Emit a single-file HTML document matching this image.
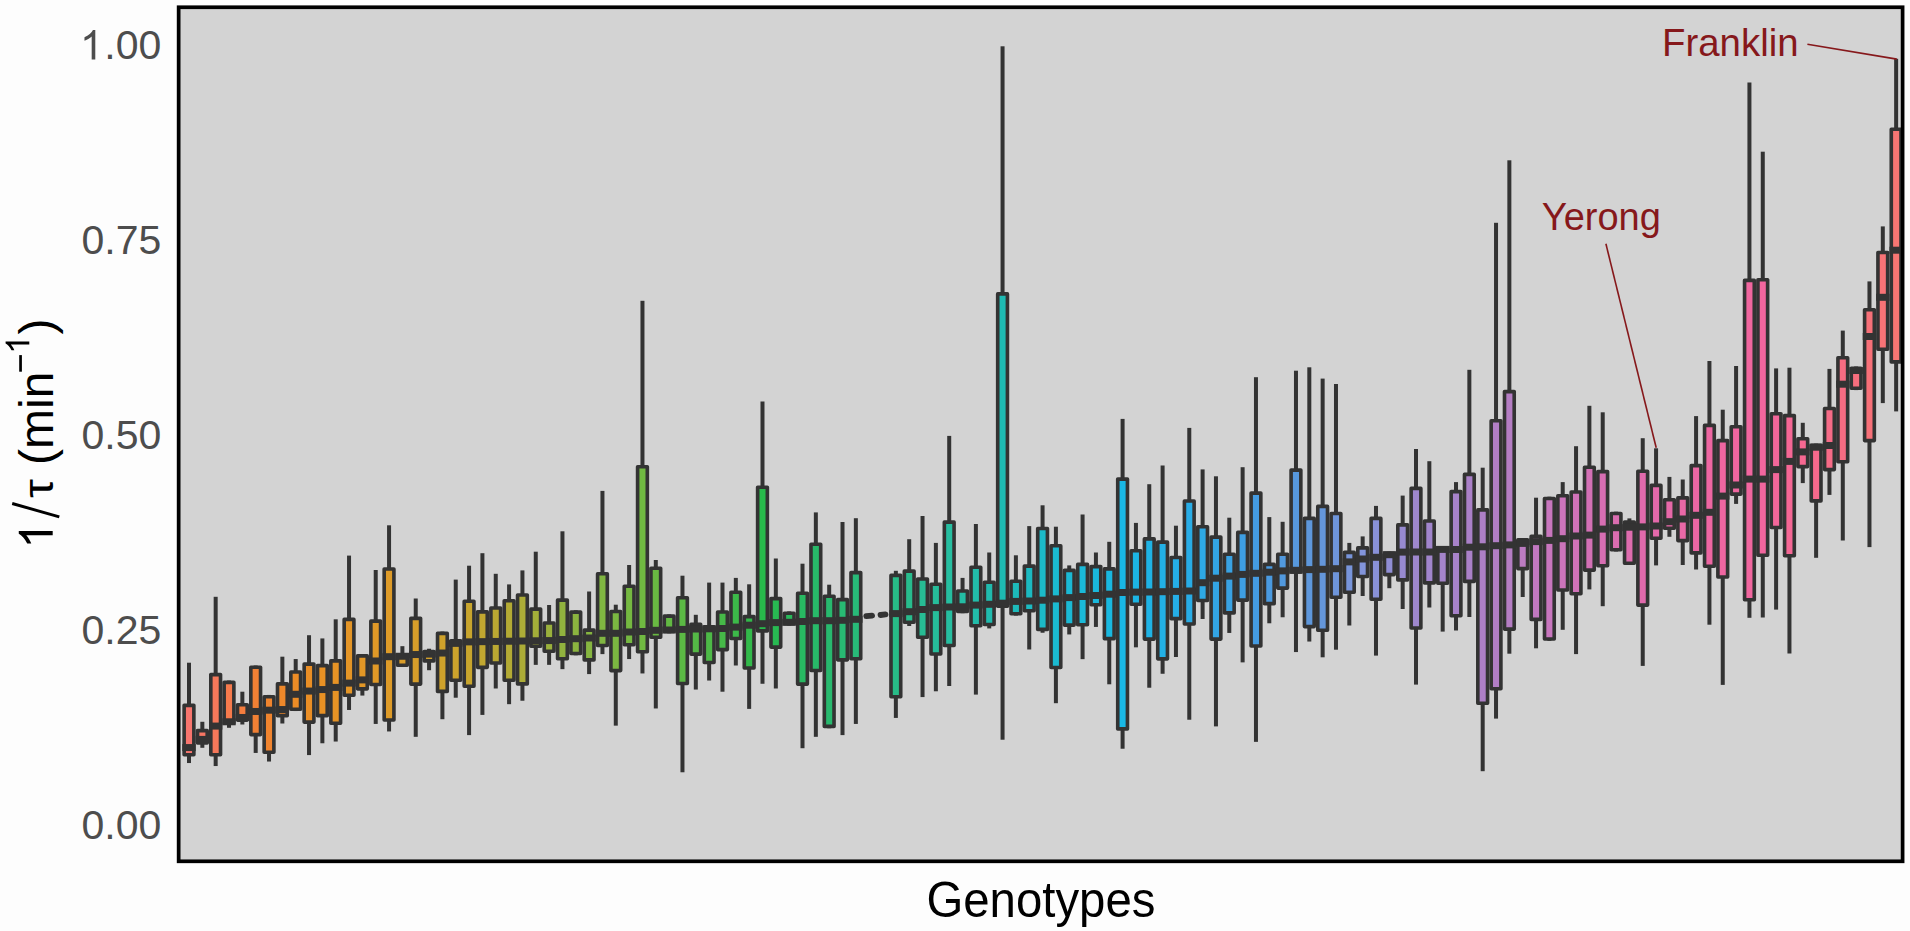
<!DOCTYPE html>
<html><head><meta charset="utf-8"><title>Genotypes</title>
<style>
html,body{margin:0;padding:0;background:#fdfdfd;}
body{width:1910px;height:931px;overflow:hidden;font-family:"Liberation Sans",sans-serif;}
svg{display:block;}
text{font-family:"Liberation Sans",sans-serif;}
</style></head>
<body>
<svg width="1910" height="931" viewBox="0 0 1910 931">
<rect x="0" y="0" width="1910" height="931" fill="#fdfdfd"/>
<rect x="178.65" y="7.25" width="1723.95" height="854.05" fill="#d3d3d3"/>
<g shape-rendering="geometricPrecision">
<rect x="187.00" y="662.71" width="4.0" height="100.32" fill="#333333"/>
<rect x="184.14" y="705.33" width="9.72" height="49.44" fill="#f7756e" stroke="#333333" stroke-width="3.62" stroke-linejoin="round"/>
<rect x="182.33" y="744.06" width="13.34" height="7.0" fill="#333333"/>
<rect x="200.34" y="721.78" width="4.0" height="26.02" fill="#333333"/>
<rect x="197.48" y="730.68" width="9.72" height="12.31" fill="#f67664" stroke="#333333" stroke-width="3.62" stroke-linejoin="round"/>
<rect x="195.67" y="735.90" width="13.34" height="7.0" fill="#333333"/>
<rect x="213.67" y="596.80" width="4.0" height="169.24" fill="#333333"/>
<rect x="210.81" y="674.61" width="9.72" height="80.16" fill="#f6785a" stroke="#333333" stroke-width="3.62" stroke-linejoin="round"/>
<rect x="209.00" y="722.58" width="13.34" height="7.0" fill="#333333"/>
<rect x="227.01" y="680.54" width="4.0" height="47.26" fill="#333333"/>
<rect x="224.15" y="682.35" width="9.72" height="40.85" fill="#f67a4c" stroke="#333333" stroke-width="3.62" stroke-linejoin="round"/>
<rect x="222.34" y="718.28" width="13.34" height="7.0" fill="#333333"/>
<rect x="240.35" y="691.71" width="4.0" height="32.79" fill="#333333"/>
<rect x="237.49" y="704.69" width="9.72" height="15.40" fill="#f47d3e" stroke="#333333" stroke-width="3.62" stroke-linejoin="round"/>
<rect x="235.68" y="713.99" width="13.34" height="7.0" fill="#333333"/>
<rect x="253.69" y="665.50" width="4.0" height="87.43" fill="#333333"/>
<rect x="250.83" y="667.31" width="9.72" height="67.27" fill="#f18034" stroke="#333333" stroke-width="3.62" stroke-linejoin="round"/>
<rect x="249.02" y="707.97" width="13.34" height="7.0" fill="#333333"/>
<rect x="267.02" y="694.93" width="4.0" height="66.60" fill="#333333"/>
<rect x="264.16" y="696.74" width="9.72" height="55.46" fill="#f0842e" stroke="#333333" stroke-width="3.62" stroke-linejoin="round"/>
<rect x="262.35" y="706.68" width="13.34" height="7.0" fill="#333333"/>
<rect x="280.36" y="656.69" width="4.0" height="66.81" fill="#333333"/>
<rect x="277.50" y="683.85" width="9.72" height="31.83" fill="#ee882a" stroke="#333333" stroke-width="3.62" stroke-linejoin="round"/>
<rect x="275.69" y="706.04" width="13.34" height="7.0" fill="#333333"/>
<rect x="293.70" y="659.05" width="4.0" height="51.99" fill="#333333"/>
<rect x="290.84" y="672.04" width="9.72" height="37.20" fill="#ec8c26" stroke="#333333" stroke-width="3.62" stroke-linejoin="round"/>
<rect x="289.03" y="690.79" width="13.34" height="7.0" fill="#333333"/>
<rect x="307.03" y="635.21" width="4.0" height="119.87" fill="#333333"/>
<rect x="304.17" y="664.09" width="9.72" height="58.03" fill="#ea8e25" stroke="#333333" stroke-width="3.62" stroke-linejoin="round"/>
<rect x="302.36" y="687.56" width="13.34" height="7.0" fill="#333333"/>
<rect x="320.37" y="638.43" width="4.0" height="104.83" fill="#333333"/>
<rect x="317.51" y="665.59" width="9.72" height="50.09" fill="#e89124" stroke="#333333" stroke-width="3.62" stroke-linejoin="round"/>
<rect x="315.70" y="686.06" width="13.34" height="7.0" fill="#333333"/>
<rect x="333.71" y="619.31" width="4.0" height="122.23" fill="#333333"/>
<rect x="330.85" y="660.86" width="9.72" height="62.33" fill="#e69325" stroke="#333333" stroke-width="3.62" stroke-linejoin="round"/>
<rect x="329.04" y="683.91" width="13.34" height="7.0" fill="#333333"/>
<rect x="347.04" y="555.60" width="4.0" height="154.37" fill="#333333"/>
<rect x="344.18" y="619.40" width="9.72" height="75.86" fill="#e49526" stroke="#333333" stroke-width="3.62" stroke-linejoin="round"/>
<rect x="342.37" y="679.61" width="13.34" height="7.0" fill="#333333"/>
<rect x="360.38" y="654.11" width="4.0" height="41.46" fill="#333333"/>
<rect x="357.52" y="655.92" width="9.72" height="32.90" fill="#e29726" stroke="#333333" stroke-width="3.62" stroke-linejoin="round"/>
<rect x="355.71" y="676.39" width="13.34" height="7.0" fill="#333333"/>
<rect x="373.72" y="570.00" width="4.0" height="153.93" fill="#333333"/>
<rect x="370.86" y="621.12" width="9.72" height="63.40" fill="#e09927" stroke="#333333" stroke-width="3.62" stroke-linejoin="round"/>
<rect x="369.05" y="657.49" width="13.34" height="7.0" fill="#333333"/>
<rect x="387.06" y="525.30" width="4.0" height="206.15" fill="#333333"/>
<rect x="384.19" y="569.01" width="9.72" height="150.96" fill="#de9b28" stroke="#333333" stroke-width="3.62" stroke-linejoin="round"/>
<rect x="382.38" y="653.19" width="13.34" height="7.0" fill="#333333"/>
<rect x="400.39" y="646.17" width="4.0" height="20.84" fill="#333333"/>
<rect x="397.53" y="654.85" width="9.72" height="10.34" fill="#da9d29" stroke="#333333" stroke-width="3.62" stroke-linejoin="round"/>
<rect x="395.72" y="652.76" width="13.34" height="7.0" fill="#333333"/>
<rect x="413.73" y="598.50" width="4.0" height="138.32" fill="#333333"/>
<rect x="410.87" y="618.33" width="9.72" height="65.77" fill="#d79e2a" stroke="#333333" stroke-width="3.62" stroke-linejoin="round"/>
<rect x="409.06" y="651.04" width="13.34" height="7.0" fill="#333333"/>
<rect x="427.07" y="648.74" width="4.0" height="21.48" fill="#333333"/>
<rect x="424.21" y="651.63" width="9.72" height="9.27" fill="#d3a02a" stroke="#333333" stroke-width="3.62" stroke-linejoin="round"/>
<rect x="422.40" y="650.61" width="13.34" height="7.0" fill="#333333"/>
<rect x="440.40" y="631.56" width="4.0" height="87.65" fill="#333333"/>
<rect x="437.54" y="633.37" width="9.72" height="58.03" fill="#cfa22b" stroke="#333333" stroke-width="3.62" stroke-linejoin="round"/>
<rect x="435.73" y="649.54" width="13.34" height="7.0" fill="#333333"/>
<rect x="453.74" y="579.60" width="4.0" height="118.12" fill="#333333"/>
<rect x="450.88" y="640.89" width="9.72" height="39.34" fill="#cca32c" stroke="#333333" stroke-width="3.62" stroke-linejoin="round"/>
<rect x="449.07" y="639.87" width="13.34" height="7.0" fill="#333333"/>
<rect x="467.08" y="565.70" width="4.0" height="169.40" fill="#333333"/>
<rect x="464.22" y="601.21" width="9.72" height="85.04" fill="#c8a52d" stroke="#333333" stroke-width="3.62" stroke-linejoin="round"/>
<rect x="462.41" y="638.37" width="13.34" height="7.0" fill="#333333"/>
<rect x="480.41" y="553.20" width="4.0" height="161.71" fill="#333333"/>
<rect x="477.55" y="611.89" width="9.72" height="55.46" fill="#c1a730" stroke="#333333" stroke-width="3.62" stroke-linejoin="round"/>
<rect x="475.74" y="638.15" width="13.34" height="7.0" fill="#333333"/>
<rect x="493.75" y="573.80" width="4.0" height="114.69" fill="#333333"/>
<rect x="490.89" y="608.02" width="9.72" height="55.03" fill="#baa832" stroke="#333333" stroke-width="3.62" stroke-linejoin="round"/>
<rect x="489.08" y="637.94" width="13.34" height="7.0" fill="#333333"/>
<rect x="507.09" y="584.40" width="4.0" height="119.77" fill="#333333"/>
<rect x="504.23" y="600.71" width="9.72" height="79.52" fill="#b3aa34" stroke="#333333" stroke-width="3.62" stroke-linejoin="round"/>
<rect x="502.42" y="637.72" width="13.34" height="7.0" fill="#333333"/>
<rect x="520.42" y="570.40" width="4.0" height="130.33" fill="#333333"/>
<rect x="517.56" y="595.01" width="9.72" height="88.87" fill="#acac37" stroke="#333333" stroke-width="3.62" stroke-linejoin="round"/>
<rect x="515.75" y="637.51" width="13.34" height="7.0" fill="#333333"/>
<rect x="533.76" y="551.70" width="4.0" height="113.15" fill="#333333"/>
<rect x="530.90" y="609.09" width="9.72" height="37.10" fill="#a3ae39" stroke="#333333" stroke-width="3.62" stroke-linejoin="round"/>
<rect x="529.09" y="637.29" width="13.34" height="7.0" fill="#333333"/>
<rect x="547.10" y="605.00" width="4.0" height="59.85" fill="#333333"/>
<rect x="544.24" y="623.06" width="9.72" height="28.17" fill="#9ab03c" stroke="#333333" stroke-width="3.62" stroke-linejoin="round"/>
<rect x="542.43" y="637.08" width="13.34" height="7.0" fill="#333333"/>
<rect x="560.44" y="531.30" width="4.0" height="137.85" fill="#333333"/>
<rect x="557.58" y="600.11" width="9.72" height="58.64" fill="#91b23e" stroke="#333333" stroke-width="3.62" stroke-linejoin="round"/>
<rect x="555.77" y="636.00" width="13.34" height="7.0" fill="#333333"/>
<rect x="573.77" y="610.30" width="4.0" height="45.00" fill="#333333"/>
<rect x="570.91" y="612.11" width="9.72" height="41.38" fill="#8bb33f" stroke="#333333" stroke-width="3.62" stroke-linejoin="round"/>
<rect x="569.10" y="635.20" width="13.34" height="7.0" fill="#333333"/>
<rect x="587.11" y="591.50" width="4.0" height="82.59" fill="#333333"/>
<rect x="584.25" y="630.15" width="9.72" height="29.74" fill="#86b540" stroke="#333333" stroke-width="3.62" stroke-linejoin="round"/>
<rect x="582.44" y="634.50" width="13.34" height="7.0" fill="#333333"/>
<rect x="600.45" y="490.90" width="4.0" height="163.21" fill="#333333"/>
<rect x="597.59" y="573.71" width="9.72" height="71.78" fill="#80b641" stroke="#333333" stroke-width="3.62" stroke-linejoin="round"/>
<rect x="595.78" y="629.80" width="13.34" height="7.0" fill="#333333"/>
<rect x="613.78" y="604.70" width="4.0" height="120.95" fill="#333333"/>
<rect x="610.92" y="611.46" width="9.72" height="59.11" fill="#7bb741" stroke="#333333" stroke-width="3.62" stroke-linejoin="round"/>
<rect x="609.11" y="629.80" width="13.34" height="7.0" fill="#333333"/>
<rect x="627.12" y="565.00" width="4.0" height="94.05" fill="#333333"/>
<rect x="624.26" y="586.31" width="9.72" height="58.38" fill="#75b841" stroke="#333333" stroke-width="3.62" stroke-linejoin="round"/>
<rect x="622.45" y="628.50" width="13.34" height="7.0" fill="#333333"/>
<rect x="640.46" y="300.80" width="4.0" height="372.65" fill="#333333"/>
<rect x="637.60" y="466.81" width="9.72" height="184.98" fill="#70b941" stroke="#333333" stroke-width="3.62" stroke-linejoin="round"/>
<rect x="635.79" y="628.00" width="13.34" height="7.0" fill="#333333"/>
<rect x="653.80" y="560.00" width="4.0" height="148.46" fill="#333333"/>
<rect x="650.94" y="568.31" width="9.72" height="68.88" fill="#69b942" stroke="#333333" stroke-width="3.62" stroke-linejoin="round"/>
<rect x="649.13" y="626.80" width="13.34" height="7.0" fill="#333333"/>
<rect x="667.13" y="614.37" width="4.0" height="18.93" fill="#333333"/>
<rect x="664.27" y="616.18" width="9.72" height="15.31" fill="#62b943" stroke="#333333" stroke-width="3.62" stroke-linejoin="round"/>
<rect x="662.46" y="626.50" width="13.34" height="7.0" fill="#333333"/>
<rect x="680.47" y="575.70" width="4.0" height="196.57" fill="#333333"/>
<rect x="677.61" y="597.81" width="9.72" height="85.64" fill="#5bb944" stroke="#333333" stroke-width="3.62" stroke-linejoin="round"/>
<rect x="675.80" y="625.90" width="13.34" height="7.0" fill="#333333"/>
<rect x="693.81" y="614.80" width="4.0" height="74.76" fill="#333333"/>
<rect x="690.95" y="624.41" width="9.72" height="29.68" fill="#54b946" stroke="#333333" stroke-width="3.62" stroke-linejoin="round"/>
<rect x="689.14" y="625.50" width="13.34" height="7.0" fill="#333333"/>
<rect x="707.14" y="582.60" width="4.0" height="97.94" fill="#333333"/>
<rect x="704.28" y="626.91" width="9.72" height="35.58" fill="#4db947" stroke="#333333" stroke-width="3.62" stroke-linejoin="round"/>
<rect x="702.47" y="625.30" width="13.34" height="7.0" fill="#333333"/>
<rect x="720.48" y="582.60" width="4.0" height="109.11" fill="#333333"/>
<rect x="717.62" y="612.01" width="9.72" height="37.58" fill="#46b948" stroke="#333333" stroke-width="3.62" stroke-linejoin="round"/>
<rect x="715.81" y="625.00" width="13.34" height="7.0" fill="#333333"/>
<rect x="733.82" y="577.90" width="4.0" height="87.60" fill="#333333"/>
<rect x="730.96" y="592.21" width="9.72" height="46.28" fill="#3cb949" stroke="#333333" stroke-width="3.62" stroke-linejoin="round"/>
<rect x="729.15" y="623.60" width="13.34" height="7.0" fill="#333333"/>
<rect x="747.15" y="584.30" width="4.0" height="124.59" fill="#333333"/>
<rect x="744.29" y="616.61" width="9.72" height="51.38" fill="#32b94a" stroke="#333333" stroke-width="3.62" stroke-linejoin="round"/>
<rect x="742.48" y="621.70" width="13.34" height="7.0" fill="#333333"/>
<rect x="760.49" y="401.50" width="4.0" height="282.26" fill="#333333"/>
<rect x="757.63" y="487.31" width="9.72" height="143.58" fill="#28b94b" stroke="#333333" stroke-width="3.62" stroke-linejoin="round"/>
<rect x="755.82" y="620.20" width="13.34" height="7.0" fill="#333333"/>
<rect x="773.83" y="558.50" width="4.0" height="129.99" fill="#333333"/>
<rect x="770.97" y="598.61" width="9.72" height="48.48" fill="#28b952" stroke="#333333" stroke-width="3.62" stroke-linejoin="round"/>
<rect x="769.16" y="619.10" width="13.34" height="7.0" fill="#333333"/>
<rect x="787.16" y="611.40" width="4.0" height="14.20" fill="#333333"/>
<rect x="784.30" y="613.21" width="9.72" height="10.58" fill="#28b95a" stroke="#333333" stroke-width="3.62" stroke-linejoin="round"/>
<rect x="782.50" y="618.80" width="13.34" height="7.0" fill="#333333"/>
<rect x="800.50" y="563.70" width="4.0" height="184.51" fill="#333333"/>
<rect x="797.64" y="593.31" width="9.72" height="90.79" fill="#28b962" stroke="#333333" stroke-width="3.62" stroke-linejoin="round"/>
<rect x="795.83" y="618.00" width="13.34" height="7.0" fill="#333333"/>
<rect x="813.84" y="512.40" width="4.0" height="224.42" fill="#333333"/>
<rect x="810.98" y="544.21" width="9.72" height="126.35" fill="#28b969" stroke="#333333" stroke-width="3.62" stroke-linejoin="round"/>
<rect x="809.17" y="617.20" width="13.34" height="7.0" fill="#333333"/>
<rect x="827.18" y="584.70" width="4.0" height="143.53" fill="#333333"/>
<rect x="824.32" y="596.31" width="9.72" height="130.11" fill="#28b96e" stroke="#333333" stroke-width="3.62" stroke-linejoin="round"/>
<rect x="822.51" y="617.20" width="13.34" height="7.0" fill="#333333"/>
<rect x="840.51" y="522.00" width="4.0" height="213.10" fill="#333333"/>
<rect x="837.65" y="599.61" width="9.72" height="60.21" fill="#28ba73" stroke="#333333" stroke-width="3.62" stroke-linejoin="round"/>
<rect x="835.84" y="616.80" width="13.34" height="7.0" fill="#333333"/>
<rect x="853.85" y="518.20" width="4.0" height="205.73" fill="#333333"/>
<rect x="850.99" y="572.61" width="9.72" height="86.14" fill="#28ba78" stroke="#333333" stroke-width="3.62" stroke-linejoin="round"/>
<rect x="849.18" y="615.80" width="13.34" height="7.0" fill="#333333"/>
<line x1="866.29" y1="616.20" x2="872.09" y2="615.60" stroke="#333333" stroke-width="5.8" stroke-linecap="round"/>
<line x1="880.52" y1="615.00" x2="885.52" y2="614.40" stroke="#333333" stroke-width="5.8" stroke-linecap="round"/>
<rect x="893.86" y="570.80" width="4.0" height="147.12" fill="#333333"/>
<rect x="891.00" y="575.41" width="9.72" height="121.36" fill="#28bb87" stroke="#333333" stroke-width="3.62" stroke-linejoin="round"/>
<rect x="889.19" y="610.10" width="13.34" height="7.0" fill="#333333"/>
<rect x="907.20" y="539.20" width="4.0" height="86.80" fill="#333333"/>
<rect x="904.34" y="571.11" width="9.72" height="51.18" fill="#28bc8d" stroke="#333333" stroke-width="3.62" stroke-linejoin="round"/>
<rect x="902.53" y="608.20" width="13.34" height="7.0" fill="#333333"/>
<rect x="920.53" y="516.00" width="4.0" height="181.08" fill="#333333"/>
<rect x="917.67" y="579.01" width="9.72" height="58.26" fill="#27bc94" stroke="#333333" stroke-width="3.62" stroke-linejoin="round"/>
<rect x="915.87" y="606.00" width="13.34" height="7.0" fill="#333333"/>
<rect x="933.87" y="542.90" width="4.0" height="148.38" fill="#333333"/>
<rect x="931.01" y="584.31" width="9.72" height="69.71" fill="#26bd9a" stroke="#333333" stroke-width="3.62" stroke-linejoin="round"/>
<rect x="929.20" y="604.10" width="13.34" height="7.0" fill="#333333"/>
<rect x="947.21" y="435.90" width="4.0" height="250.10" fill="#333333"/>
<rect x="944.35" y="522.11" width="9.72" height="123.42" fill="#26bea0" stroke="#333333" stroke-width="3.62" stroke-linejoin="round"/>
<rect x="942.54" y="603.50" width="13.34" height="7.0" fill="#333333"/>
<rect x="960.55" y="577.90" width="4.0" height="35.30" fill="#333333"/>
<rect x="957.69" y="591.01" width="9.72" height="20.38" fill="#24bda4" stroke="#333333" stroke-width="3.62" stroke-linejoin="round"/>
<rect x="955.88" y="603.30" width="13.34" height="7.0" fill="#333333"/>
<rect x="973.88" y="524.00" width="4.0" height="170.60" fill="#333333"/>
<rect x="971.02" y="567.21" width="9.72" height="58.55" fill="#22bca9" stroke="#333333" stroke-width="3.62" stroke-linejoin="round"/>
<rect x="969.21" y="601.60" width="13.34" height="7.0" fill="#333333"/>
<rect x="987.22" y="552.50" width="4.0" height="75.93" fill="#333333"/>
<rect x="984.36" y="582.31" width="9.72" height="42.16" fill="#20bbae" stroke="#333333" stroke-width="3.62" stroke-linejoin="round"/>
<rect x="982.55" y="600.80" width="13.34" height="7.0" fill="#333333"/>
<rect x="1000.56" y="46.30" width="4.0" height="693.41" fill="#333333"/>
<rect x="997.70" y="293.91" width="9.72" height="312.28" fill="#1ebab2" stroke="#333333" stroke-width="3.62" stroke-linejoin="round"/>
<rect x="995.89" y="599.70" width="13.34" height="7.0" fill="#333333"/>
<rect x="1013.89" y="555.30" width="4.0" height="60.30" fill="#333333"/>
<rect x="1011.03" y="581.21" width="9.72" height="32.58" fill="#1dbaba" stroke="#333333" stroke-width="3.62" stroke-linejoin="round"/>
<rect x="1009.22" y="597.90" width="13.34" height="7.0" fill="#333333"/>
<rect x="1027.23" y="526.10" width="4.0" height="123.38" fill="#333333"/>
<rect x="1024.37" y="566.11" width="9.72" height="44.68" fill="#1cbac1" stroke="#333333" stroke-width="3.62" stroke-linejoin="round"/>
<rect x="1022.56" y="597.50" width="13.34" height="7.0" fill="#333333"/>
<rect x="1040.57" y="505.30" width="4.0" height="127.43" fill="#333333"/>
<rect x="1037.71" y="528.51" width="9.72" height="100.90" fill="#1cbac8" stroke="#333333" stroke-width="3.62" stroke-linejoin="round"/>
<rect x="1035.90" y="596.70" width="13.34" height="7.0" fill="#333333"/>
<rect x="1053.90" y="526.70" width="4.0" height="176.49" fill="#333333"/>
<rect x="1051.04" y="545.71" width="9.72" height="121.73" fill="#1bbad0" stroke="#333333" stroke-width="3.62" stroke-linejoin="round"/>
<rect x="1049.23" y="595.40" width="13.34" height="7.0" fill="#333333"/>
<rect x="1067.24" y="565.40" width="4.0" height="69.05" fill="#333333"/>
<rect x="1064.38" y="570.41" width="9.72" height="54.71" fill="#1bb9d4" stroke="#333333" stroke-width="3.62" stroke-linejoin="round"/>
<rect x="1062.57" y="594.10" width="13.34" height="7.0" fill="#333333"/>
<rect x="1080.58" y="514.50" width="4.0" height="144.65" fill="#333333"/>
<rect x="1077.72" y="564.41" width="9.72" height="60.28" fill="#1ab9d8" stroke="#333333" stroke-width="3.62" stroke-linejoin="round"/>
<rect x="1075.91" y="593.00" width="13.34" height="7.0" fill="#333333"/>
<rect x="1093.92" y="552.50" width="4.0" height="74.43" fill="#333333"/>
<rect x="1091.06" y="566.61" width="9.72" height="38.10" fill="#1ab8dc" stroke="#333333" stroke-width="3.62" stroke-linejoin="round"/>
<rect x="1089.25" y="592.00" width="13.34" height="7.0" fill="#333333"/>
<rect x="1107.25" y="541.80" width="4.0" height="142.49" fill="#333333"/>
<rect x="1104.39" y="568.91" width="9.72" height="69.74" fill="#19b8e0" stroke="#333333" stroke-width="3.62" stroke-linejoin="round"/>
<rect x="1102.58" y="590.70" width="13.34" height="7.0" fill="#333333"/>
<rect x="1120.59" y="418.90" width="4.0" height="329.83" fill="#333333"/>
<rect x="1117.73" y="479.11" width="9.72" height="249.77" fill="#19b7e4" stroke="#333333" stroke-width="3.62" stroke-linejoin="round"/>
<rect x="1115.92" y="589.00" width="13.34" height="7.0" fill="#333333"/>
<rect x="1133.93" y="522.90" width="4.0" height="124.44" fill="#333333"/>
<rect x="1131.07" y="550.71" width="9.72" height="53.48" fill="#1cb5e4" stroke="#333333" stroke-width="3.62" stroke-linejoin="round"/>
<rect x="1129.26" y="588.60" width="13.34" height="7.0" fill="#333333"/>
<rect x="1147.26" y="484.20" width="4.0" height="203.52" fill="#333333"/>
<rect x="1144.40" y="538.91" width="9.72" height="100.17" fill="#1fb3e5" stroke="#333333" stroke-width="3.62" stroke-linejoin="round"/>
<rect x="1142.59" y="588.50" width="13.34" height="7.0" fill="#333333"/>
<rect x="1160.60" y="465.50" width="4.0" height="208.26" fill="#333333"/>
<rect x="1157.74" y="542.11" width="9.72" height="116.74" fill="#22b0e5" stroke="#333333" stroke-width="3.62" stroke-linejoin="round"/>
<rect x="1155.93" y="588.20" width="13.34" height="7.0" fill="#333333"/>
<rect x="1173.94" y="525.70" width="4.0" height="131.30" fill="#333333"/>
<rect x="1171.08" y="557.51" width="9.72" height="61.16" fill="#25aee6" stroke="#333333" stroke-width="3.62" stroke-linejoin="round"/>
<rect x="1169.27" y="587.90" width="13.34" height="7.0" fill="#333333"/>
<rect x="1187.28" y="427.90" width="4.0" height="291.83" fill="#333333"/>
<rect x="1184.41" y="501.01" width="9.72" height="123.03" fill="#28ace6" stroke="#333333" stroke-width="3.62" stroke-linejoin="round"/>
<rect x="1182.61" y="587.50" width="13.34" height="7.0" fill="#333333"/>
<rect x="1200.61" y="469.40" width="4.0" height="149.58" fill="#333333"/>
<rect x="1197.75" y="526.81" width="9.72" height="73.68" fill="#2ea9e5" stroke="#333333" stroke-width="3.62" stroke-linejoin="round"/>
<rect x="1195.94" y="579.20" width="13.34" height="7.0" fill="#333333"/>
<rect x="1213.95" y="476.30" width="4.0" height="250.09" fill="#333333"/>
<rect x="1211.09" y="537.11" width="9.72" height="101.97" fill="#33a5e4" stroke="#333333" stroke-width="3.62" stroke-linejoin="round"/>
<rect x="1209.28" y="574.70" width="13.34" height="7.0" fill="#333333"/>
<rect x="1227.29" y="517.70" width="4.0" height="115.24" fill="#333333"/>
<rect x="1224.43" y="554.31" width="9.72" height="58.58" fill="#39a2e3" stroke="#333333" stroke-width="3.62" stroke-linejoin="round"/>
<rect x="1222.62" y="572.60" width="13.34" height="7.0" fill="#333333"/>
<rect x="1240.62" y="467.20" width="4.0" height="195.17" fill="#333333"/>
<rect x="1237.76" y="532.41" width="9.72" height="67.68" fill="#3e9ee2" stroke="#333333" stroke-width="3.62" stroke-linejoin="round"/>
<rect x="1235.95" y="570.90" width="13.34" height="7.0" fill="#333333"/>
<rect x="1253.96" y="377.20" width="4.0" height="364.66" fill="#333333"/>
<rect x="1251.10" y="493.11" width="9.72" height="152.85" fill="#449be1" stroke="#333333" stroke-width="3.62" stroke-linejoin="round"/>
<rect x="1249.29" y="569.80" width="13.34" height="7.0" fill="#333333"/>
<rect x="1267.30" y="517.10" width="4.0" height="106.18" fill="#333333"/>
<rect x="1264.44" y="564.41" width="9.72" height="39.23" fill="#4a9ae0" stroke="#333333" stroke-width="3.62" stroke-linejoin="round"/>
<rect x="1262.63" y="568.70" width="13.34" height="7.0" fill="#333333"/>
<rect x="1280.63" y="521.80" width="4.0" height="95.46" fill="#333333"/>
<rect x="1277.77" y="554.31" width="9.72" height="33.78" fill="#5199de" stroke="#333333" stroke-width="3.62" stroke-linejoin="round"/>
<rect x="1275.96" y="567.40" width="13.34" height="7.0" fill="#333333"/>
<rect x="1293.97" y="370.70" width="4.0" height="281.36" fill="#333333"/>
<rect x="1291.11" y="470.11" width="9.72" height="101.88" fill="#5798dd" stroke="#333333" stroke-width="3.62" stroke-linejoin="round"/>
<rect x="1289.30" y="566.80" width="13.34" height="7.0" fill="#333333"/>
<rect x="1307.31" y="367.30" width="4.0" height="274.24" fill="#333333"/>
<rect x="1304.45" y="518.41" width="9.72" height="108.21" fill="#5e97db" stroke="#333333" stroke-width="3.62" stroke-linejoin="round"/>
<rect x="1302.64" y="566.10" width="13.34" height="7.0" fill="#333333"/>
<rect x="1320.64" y="378.60" width="4.0" height="278.70" fill="#333333"/>
<rect x="1317.78" y="506.41" width="9.72" height="123.78" fill="#6496da" stroke="#333333" stroke-width="3.62" stroke-linejoin="round"/>
<rect x="1315.97" y="565.80" width="13.34" height="7.0" fill="#333333"/>
<rect x="1333.98" y="384.00" width="4.0" height="265.70" fill="#333333"/>
<rect x="1331.12" y="513.51" width="9.72" height="83.68" fill="#6e95da" stroke="#333333" stroke-width="3.62" stroke-linejoin="round"/>
<rect x="1329.31" y="565.20" width="13.34" height="7.0" fill="#333333"/>
<rect x="1347.32" y="542.90" width="4.0" height="82.60" fill="#333333"/>
<rect x="1344.46" y="552.41" width="9.72" height="39.88" fill="#7895da" stroke="#333333" stroke-width="3.62" stroke-linejoin="round"/>
<rect x="1342.65" y="558.40" width="13.34" height="7.0" fill="#333333"/>
<rect x="1360.66" y="536.40" width="4.0" height="59.60" fill="#333333"/>
<rect x="1357.80" y="547.91" width="9.72" height="28.58" fill="#8294da" stroke="#333333" stroke-width="3.62" stroke-linejoin="round"/>
<rect x="1355.99" y="555.50" width="13.34" height="7.0" fill="#333333"/>
<rect x="1373.99" y="505.90" width="4.0" height="149.70" fill="#333333"/>
<rect x="1371.13" y="518.41" width="9.72" height="80.78" fill="#8991d7" stroke="#333333" stroke-width="3.62" stroke-linejoin="round"/>
<rect x="1369.32" y="553.80" width="13.34" height="7.0" fill="#333333"/>
<rect x="1387.33" y="551.60" width="4.0" height="36.60" fill="#333333"/>
<rect x="1384.47" y="553.41" width="9.72" height="21.18" fill="#908ed4" stroke="#333333" stroke-width="3.62" stroke-linejoin="round"/>
<rect x="1382.66" y="551.20" width="13.34" height="7.0" fill="#333333"/>
<rect x="1400.67" y="495.60" width="4.0" height="113.40" fill="#333333"/>
<rect x="1397.81" y="524.91" width="9.72" height="54.98" fill="#978ad0" stroke="#333333" stroke-width="3.62" stroke-linejoin="round"/>
<rect x="1396.00" y="548.60" width="13.34" height="7.0" fill="#333333"/>
<rect x="1414.00" y="449.00" width="4.0" height="235.60" fill="#333333"/>
<rect x="1411.14" y="488.41" width="9.72" height="139.58" fill="#9e87cd" stroke="#333333" stroke-width="3.62" stroke-linejoin="round"/>
<rect x="1409.33" y="548.50" width="13.34" height="7.0" fill="#333333"/>
<rect x="1427.34" y="461.20" width="4.0" height="146.30" fill="#333333"/>
<rect x="1424.48" y="521.01" width="9.72" height="61.88" fill="#a185cc" stroke="#333333" stroke-width="3.62" stroke-linejoin="round"/>
<rect x="1422.67" y="548.50" width="13.34" height="7.0" fill="#333333"/>
<rect x="1440.68" y="546.40" width="4.0" height="85.20" fill="#333333"/>
<rect x="1437.82" y="548.21" width="9.72" height="34.98" fill="#a484ca" stroke="#333333" stroke-width="3.62" stroke-linejoin="round"/>
<rect x="1436.01" y="545.90" width="13.34" height="7.0" fill="#333333"/>
<rect x="1454.01" y="482.10" width="4.0" height="148.40" fill="#333333"/>
<rect x="1451.15" y="491.61" width="9.72" height="124.18" fill="#a782c9" stroke="#333333" stroke-width="3.62" stroke-linejoin="round"/>
<rect x="1449.34" y="546.00" width="13.34" height="7.0" fill="#333333"/>
<rect x="1467.35" y="369.80" width="4.0" height="247.20" fill="#333333"/>
<rect x="1464.49" y="474.41" width="9.72" height="106.98" fill="#aa80c8" stroke="#333333" stroke-width="3.62" stroke-linejoin="round"/>
<rect x="1462.68" y="543.70" width="13.34" height="7.0" fill="#333333"/>
<rect x="1480.69" y="467.70" width="4.0" height="303.50" fill="#333333"/>
<rect x="1477.83" y="509.91" width="9.72" height="193.28" fill="#ad7fc6" stroke="#333333" stroke-width="3.62" stroke-linejoin="round"/>
<rect x="1476.02" y="543.30" width="13.34" height="7.0" fill="#333333"/>
<rect x="1494.03" y="222.80" width="4.0" height="495.80" fill="#333333"/>
<rect x="1491.17" y="420.71" width="9.72" height="268.08" fill="#b17ec5" stroke="#333333" stroke-width="3.62" stroke-linejoin="round"/>
<rect x="1489.36" y="542.20" width="13.34" height="7.0" fill="#333333"/>
<rect x="1507.36" y="160.30" width="4.0" height="493.40" fill="#333333"/>
<rect x="1504.50" y="391.61" width="9.72" height="237.48" fill="#b47dc3" stroke="#333333" stroke-width="3.62" stroke-linejoin="round"/>
<rect x="1502.69" y="541.40" width="13.34" height="7.0" fill="#333333"/>
<rect x="1520.70" y="538.00" width="4.0" height="59.00" fill="#333333"/>
<rect x="1517.84" y="539.81" width="9.72" height="28.78" fill="#bb7bc1" stroke="#333333" stroke-width="3.62" stroke-linejoin="round"/>
<rect x="1516.03" y="539.90" width="13.34" height="7.0" fill="#333333"/>
<rect x="1534.04" y="497.70" width="4.0" height="150.60" fill="#333333"/>
<rect x="1531.18" y="536.31" width="9.72" height="83.08" fill="#c178c0" stroke="#333333" stroke-width="3.62" stroke-linejoin="round"/>
<rect x="1529.37" y="538.10" width="13.34" height="7.0" fill="#333333"/>
<rect x="1547.37" y="496.70" width="4.0" height="144.10" fill="#333333"/>
<rect x="1544.51" y="498.51" width="9.72" height="140.48" fill="#c876be" stroke="#333333" stroke-width="3.62" stroke-linejoin="round"/>
<rect x="1542.70" y="536.90" width="13.34" height="7.0" fill="#333333"/>
<rect x="1560.71" y="482.10" width="4.0" height="147.70" fill="#333333"/>
<rect x="1557.85" y="495.71" width="9.72" height="94.28" fill="#cc74bb" stroke="#333333" stroke-width="3.62" stroke-linejoin="round"/>
<rect x="1556.04" y="535.20" width="13.34" height="7.0" fill="#333333"/>
<rect x="1574.05" y="446.20" width="4.0" height="207.90" fill="#333333"/>
<rect x="1571.19" y="492.01" width="9.72" height="101.68" fill="#d072b8" stroke="#333333" stroke-width="3.62" stroke-linejoin="round"/>
<rect x="1569.38" y="532.50" width="13.34" height="7.0" fill="#333333"/>
<rect x="1587.38" y="405.80" width="4.0" height="183.60" fill="#333333"/>
<rect x="1584.52" y="467.31" width="9.72" height="102.78" fill="#d370b5" stroke="#333333" stroke-width="3.62" stroke-linejoin="round"/>
<rect x="1582.71" y="531.60" width="13.34" height="7.0" fill="#333333"/>
<rect x="1600.72" y="412.30" width="4.0" height="193.90" fill="#333333"/>
<rect x="1597.86" y="471.61" width="9.72" height="94.18" fill="#d76eb2" stroke="#333333" stroke-width="3.62" stroke-linejoin="round"/>
<rect x="1596.05" y="525.60" width="13.34" height="7.0" fill="#333333"/>
<rect x="1614.06" y="511.70" width="4.0" height="39.80" fill="#333333"/>
<rect x="1611.20" y="513.51" width="9.72" height="36.18" fill="#da6db0" stroke="#333333" stroke-width="3.62" stroke-linejoin="round"/>
<rect x="1609.39" y="524.20" width="13.34" height="7.0" fill="#333333"/>
<rect x="1627.40" y="518.40" width="4.0" height="46.60" fill="#333333"/>
<rect x="1624.54" y="522.11" width="9.72" height="41.08" fill="#de6cae" stroke="#333333" stroke-width="3.62" stroke-linejoin="round"/>
<rect x="1622.73" y="523.70" width="13.34" height="7.0" fill="#333333"/>
<rect x="1640.73" y="438.20" width="4.0" height="227.70" fill="#333333"/>
<rect x="1637.87" y="471.21" width="9.72" height="133.88" fill="#e16aac" stroke="#333333" stroke-width="3.62" stroke-linejoin="round"/>
<rect x="1636.06" y="523.40" width="13.34" height="7.0" fill="#333333"/>
<rect x="1654.07" y="448.30" width="4.0" height="117.10" fill="#333333"/>
<rect x="1651.21" y="485.41" width="9.72" height="52.88" fill="#e469aa" stroke="#333333" stroke-width="3.62" stroke-linejoin="round"/>
<rect x="1649.40" y="522.50" width="13.34" height="7.0" fill="#333333"/>
<rect x="1667.41" y="476.90" width="4.0" height="59.90" fill="#333333"/>
<rect x="1664.55" y="499.81" width="9.72" height="28.38" fill="#e668a8" stroke="#333333" stroke-width="3.62" stroke-linejoin="round"/>
<rect x="1662.74" y="518.20" width="13.34" height="7.0" fill="#333333"/>
<rect x="1680.74" y="479.50" width="4.0" height="85.50" fill="#333333"/>
<rect x="1677.88" y="497.91" width="9.72" height="42.68" fill="#e968a6" stroke="#333333" stroke-width="3.62" stroke-linejoin="round"/>
<rect x="1676.07" y="515.50" width="13.34" height="7.0" fill="#333333"/>
<rect x="1694.08" y="416.10" width="4.0" height="153.40" fill="#333333"/>
<rect x="1691.22" y="465.61" width="9.72" height="87.28" fill="#ec67a4" stroke="#333333" stroke-width="3.62" stroke-linejoin="round"/>
<rect x="1689.41" y="511.80" width="13.34" height="7.0" fill="#333333"/>
<rect x="1707.42" y="361.00" width="4.0" height="263.70" fill="#333333"/>
<rect x="1704.56" y="425.41" width="9.72" height="140.78" fill="#ee66a2" stroke="#333333" stroke-width="3.62" stroke-linejoin="round"/>
<rect x="1702.75" y="508.80" width="13.34" height="7.0" fill="#333333"/>
<rect x="1720.75" y="409.70" width="4.0" height="275.20" fill="#333333"/>
<rect x="1717.89" y="440.61" width="9.72" height="136.38" fill="#ef66a1" stroke="#333333" stroke-width="3.62" stroke-linejoin="round"/>
<rect x="1716.08" y="492.60" width="13.34" height="7.0" fill="#333333"/>
<rect x="1734.09" y="366.00" width="4.0" height="137.90" fill="#333333"/>
<rect x="1731.23" y="426.81" width="9.72" height="67.28" fill="#f066a0" stroke="#333333" stroke-width="3.62" stroke-linejoin="round"/>
<rect x="1729.42" y="481.50" width="13.34" height="7.0" fill="#333333"/>
<rect x="1747.43" y="82.50" width="4.0" height="535.30" fill="#333333"/>
<rect x="1744.57" y="280.41" width="9.72" height="319.28" fill="#f1669f" stroke="#333333" stroke-width="3.62" stroke-linejoin="round"/>
<rect x="1742.76" y="475.60" width="13.34" height="7.0" fill="#333333"/>
<rect x="1760.77" y="151.70" width="4.0" height="465.80" fill="#333333"/>
<rect x="1757.91" y="279.71" width="9.72" height="275.48" fill="#f2669e" stroke="#333333" stroke-width="3.62" stroke-linejoin="round"/>
<rect x="1756.10" y="475.60" width="13.34" height="7.0" fill="#333333"/>
<rect x="1774.10" y="368.40" width="4.0" height="241.20" fill="#333333"/>
<rect x="1771.24" y="413.71" width="9.72" height="113.78" fill="#f3679a" stroke="#333333" stroke-width="3.62" stroke-linejoin="round"/>
<rect x="1769.43" y="466.10" width="13.34" height="7.0" fill="#333333"/>
<rect x="1787.44" y="367.70" width="4.0" height="285.80" fill="#333333"/>
<rect x="1784.58" y="415.61" width="9.72" height="140.08" fill="#f56795" stroke="#333333" stroke-width="3.62" stroke-linejoin="round"/>
<rect x="1782.77" y="457.90" width="13.34" height="7.0" fill="#333333"/>
<rect x="1800.78" y="422.80" width="4.0" height="60.30" fill="#333333"/>
<rect x="1797.92" y="438.81" width="9.72" height="27.78" fill="#f66891" stroke="#333333" stroke-width="3.62" stroke-linejoin="round"/>
<rect x="1796.11" y="448.40" width="13.34" height="7.0" fill="#333333"/>
<rect x="1814.11" y="443.60" width="4.0" height="114.20" fill="#333333"/>
<rect x="1811.25" y="445.41" width="9.72" height="55.48" fill="#f6698c" stroke="#333333" stroke-width="3.62" stroke-linejoin="round"/>
<rect x="1809.44" y="443.70" width="13.34" height="7.0" fill="#333333"/>
<rect x="1827.45" y="368.90" width="4.0" height="126.00" fill="#333333"/>
<rect x="1824.59" y="408.51" width="9.72" height="61.08" fill="#f66b87" stroke="#333333" stroke-width="3.62" stroke-linejoin="round"/>
<rect x="1822.78" y="442.00" width="13.34" height="7.0" fill="#333333"/>
<rect x="1840.79" y="330.60" width="4.0" height="209.90" fill="#333333"/>
<rect x="1837.93" y="357.81" width="9.72" height="103.98" fill="#f66c82" stroke="#333333" stroke-width="3.62" stroke-linejoin="round"/>
<rect x="1836.12" y="380.70" width="13.34" height="7.0" fill="#333333"/>
<rect x="1854.12" y="366.50" width="4.0" height="23.60" fill="#333333"/>
<rect x="1851.26" y="368.31" width="9.72" height="19.98" fill="#f66e7d" stroke="#333333" stroke-width="3.62" stroke-linejoin="round"/>
<rect x="1849.45" y="367.00" width="13.34" height="7.0" fill="#333333"/>
<rect x="1867.46" y="281.40" width="4.0" height="265.70" fill="#333333"/>
<rect x="1864.60" y="309.71" width="9.72" height="130.88" fill="#f77078" stroke="#333333" stroke-width="3.62" stroke-linejoin="round"/>
<rect x="1862.79" y="333.00" width="13.34" height="7.0" fill="#333333"/>
<rect x="1880.80" y="226.40" width="4.0" height="176.70" fill="#333333"/>
<rect x="1877.94" y="252.51" width="9.72" height="96.78" fill="#f77376" stroke="#333333" stroke-width="3.62" stroke-linejoin="round"/>
<rect x="1876.13" y="293.80" width="13.34" height="7.0" fill="#333333"/>
<rect x="1894.14" y="58.80" width="4.0" height="352.60" fill="#333333"/>
<rect x="1891.28" y="129.21" width="9.72" height="232.68" fill="#f77673" stroke="#333333" stroke-width="3.62" stroke-linejoin="round"/>
<rect x="1889.47" y="246.70" width="13.34" height="7.0" fill="#333333"/>
</g>
<rect x="178.65" y="7.25" width="1723.95" height="854.05" fill="none" stroke="#000" stroke-width="3.7"/>
<path transform="translate(80.01400000000001,59.428) scale(0.02002,-0.02002)" d="M763 0H583V1147Q518 1085 412.5 1023Q307 961 223 930V1104Q374 1175 487 1276Q600 1377 647 1472H763Z" fill="#4d4d4d"/>
<text x="161.3" y="59.4" text-anchor="end" font-size="41.0" fill="#4d4d4d">.00</text>
<text x="161.3" y="254.4" text-anchor="end" font-size="41.0" fill="#4d4d4d">0.75</text>
<text x="161.3" y="449.4" text-anchor="end" font-size="41.0" fill="#4d4d4d">0.50</text>
<text x="161.3" y="644.4" text-anchor="end" font-size="41.0" fill="#4d4d4d">0.25</text>
<text x="161.3" y="839.4" text-anchor="end" font-size="41.0" fill="#4d4d4d">0.00</text>

<text transform="translate(1040.9,916.6) scale(0.955,1)" text-anchor="middle" font-size="49.6" fill="#000">Genotypes</text>
<g fill="#000" font-size="48">
<path transform="translate(52.7,548.7) rotate(-90) scale(0.02305,-0.02305)" d="M763 0H583V1147Q518 1085 412.5 1023Q307 961 223 930V1104Q374 1175 487 1276Q600 1377 647 1472H763Z" fill="#000"/>
<line x1="12.2" y1="503.5" x2="59.3" y2="516.9" stroke="#000" stroke-width="2.9"/>
<text transform="translate(53.2,498.0) rotate(-90) scale(1,0.9)">&#964;</text>
<text transform="translate(52.7,465.0) rotate(-90)">(</text>
<text transform="translate(52.7,449.0) rotate(-90)">min</text>
<rect x="19.2" y="355.1" width="2.7" height="16.6"/>
<path transform="translate(29.3,353.9) rotate(-90) scale(0.01611,-0.01611)" d="M763 0H583V1147Q518 1085 412.5 1023Q307 961 223 930V1104Q374 1175 487 1276Q600 1377 647 1472H763Z" fill="#000"/>
<text transform="translate(52.7,334.5) rotate(-90)">)</text>
</g>
<g fill="#86181b" stroke="none">
<text transform="translate(1662.0,55.9) scale(0.985,1)" font-size="39">Franklin</text>
<text transform="translate(1541.8,230.4) scale(0.985,1)" font-size="38.6">Yerong</text>
</g>
<g stroke="#86181b" stroke-width="1.6" fill="none">
<line x1="1807.4" y1="44.2" x2="1896.8" y2="59.1"/>
<line x1="1605.9" y1="243.8" x2="1656.2" y2="447.7"/>
</g>
</svg>
</body></html>
